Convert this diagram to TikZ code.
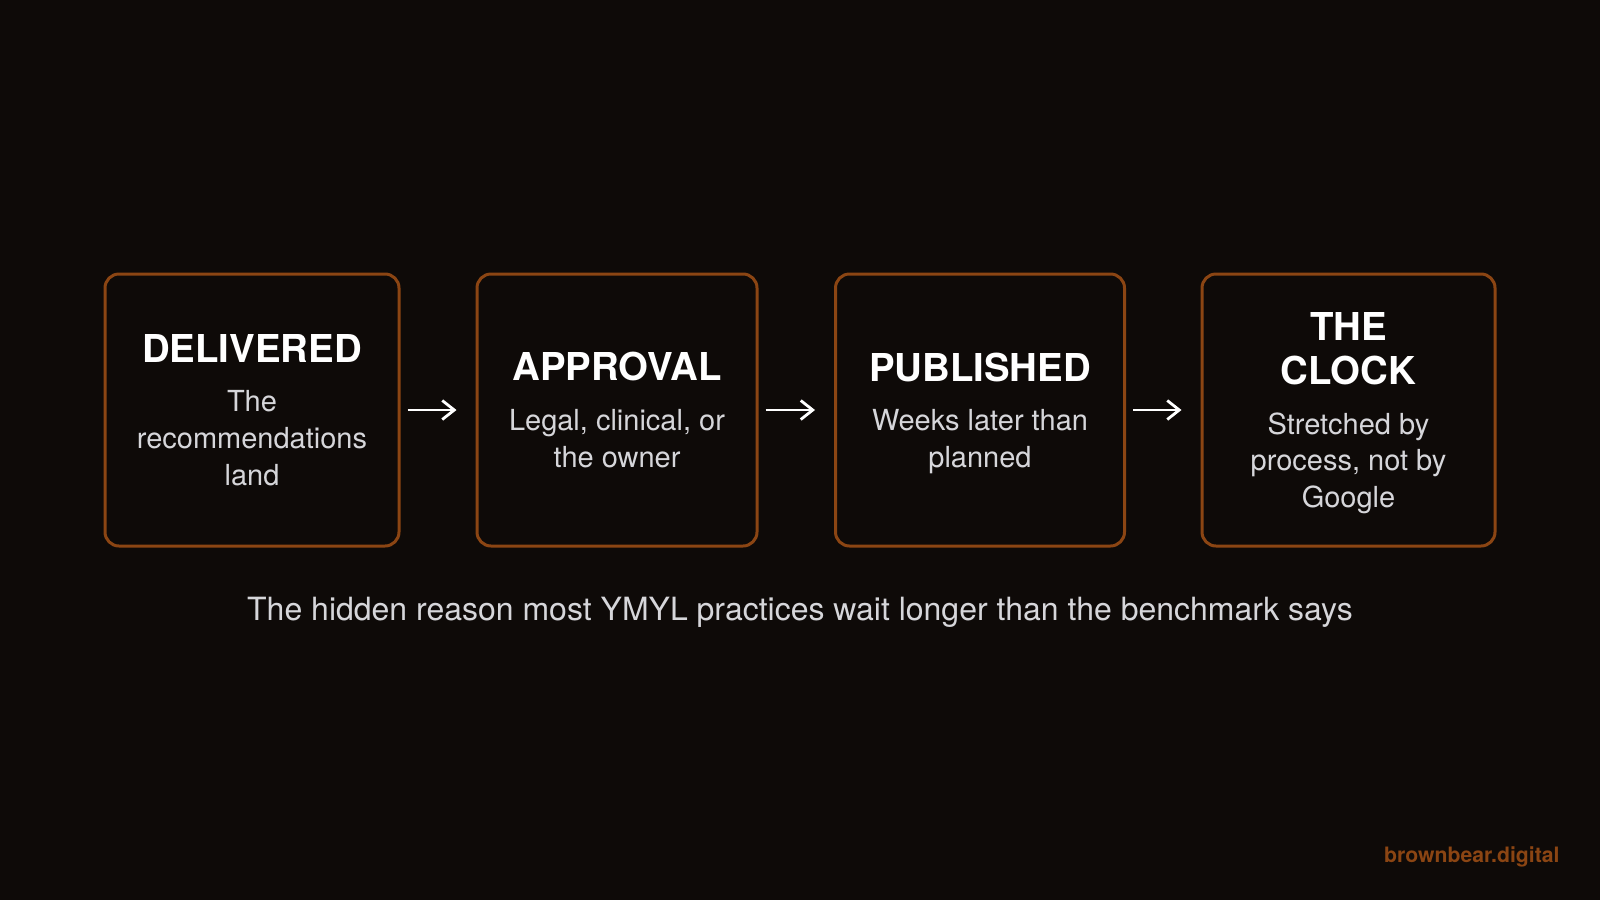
\documentclass[tikz,border=0pt]{standalone}
\usepackage{fontspec}
\setmainfont{TeX Gyre Heros}
\usetikzlibrary{arrows.meta}
\definecolor{bgdark}{HTML}{0E0A08}
\definecolor{rust}{HTML}{8B4513}
\definecolor{softgray}{HTML}{D6D6DA}
\newcommand{\stagehead}[1]{{\color{white}\fontsize{19.2}{22}\selectfont\bfseries #1}}

\begin{document}
\begin{tikzpicture}[x=0.5pt, y=-0.5pt,
    stage/.style={draw=rust, line width=1.5pt, rounded corners=7pt, minimum height=136pt, align=center, text=softgray, inner sep=0pt, font=\fontsize{14.5}{18.35}\selectfont},
    flow/.style={-{Straight Barb[length=6pt,width=9.5pt]}, white, line width=1.4pt, shorten <=3.5pt, shorten >=9.5pt}]
    % Background
    \fill[bgdark] (0,0) rectangle (1600,900);

    % Stages (last lines smashed so descenders do not shift the block)
    \node[stage, minimum width=147pt] (deliv) at (252,410) {\stagehead{DELIVERED}\\[6.5pt]The\\recommendations\\land};
    \node[stage, minimum width=140pt] (approv) at (617,410) {\stagehead{APPROVAL}\\[6.5pt]Legal, clinical, or\\the owner};
    \node[stage, minimum width=144.5pt] (publ) at (980,410) {\stagehead{PUBLISHED}\\[6.5pt]Weeks later than\\\smash{planned}};
    \node[stage, minimum width=146.5pt] (clock) at (1348.5,410) {\stagehead{THE}\\[3.6pt]\stagehead{CLOCK}\\[6.5pt]Stretched by\\process, not by\\\smash{Google}};

    % Arrows
    \draw[flow] (deliv) -- (approv);
    \draw[flow] (approv) -- (publ);
    \draw[flow] (publ) -- (clock);

    % Caption
    \node[text=softgray, font=\fontsize{16}{19}\selectfont] (caption) at (800,612) {The hidden reason most YMYL practices wait longer than the benchmark says};
    \node[text=rust, anchor=east, inner sep=0pt, font=\fontsize{10.6}{13}\selectfont\bfseries] (brand) at (1560,857) {brownbear.digital};
\end{tikzpicture}
\end{document}
